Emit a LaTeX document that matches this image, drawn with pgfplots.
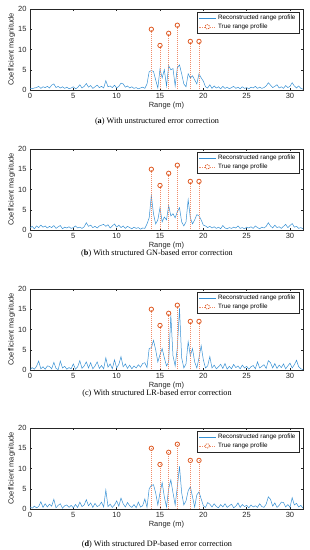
\documentclass[border=0pt]{standalone}
\usepackage{fontspec}
\setmainfont{Liberation Serif}
\newfontfamily\axisfont{Liberation Sans}
\usepackage{pgfplots}
\usepackage{pgfplotstable}
\pgfplotsset{compat=1.18}
\definecolor{mblue}{RGB}{55,145,212}
\definecolor{morange}{RGB}{222,90,35}
\definecolor{mstem}{RGB}{240,140,105}
\definecolor{maxis}{RGB}{38,38,38}

\pgfplotstableread{
x a b c d
0.00 0.4 0.5 0.1 0.5
0.25 0.3 0.9 0.6 0.2
0.50 0.5 0.3 0.2 0.7
0.75 0.6 1.0 0.9 0.3
1.00 0.9 0.6 2.2 0.6
1.25 0.4 1.2 0.3 1.8
1.50 0.8 0.7 0.8 0.4
1.75 0.6 1.0 0.2 1.3
2.00 0.9 0.5 1.0 0.5
2.25 0.5 0.9 0.9 1.2
2.50 1.2 0.6 0.3 0.7
2.75 1.5 1.1 1.9 2.4
3.00 0.6 0.4 0.4 0.3
3.25 0.9 0.8 0.1 0.9
3.50 0.5 1.1 2.2 1.3
3.75 0.8 0.3 0.5 0.2
4.00 0.4 0.7 0.9 0.8
4.25 0.7 0.5 0.2 1.0
4.50 0.3 0.8 0.6 0.4
4.75 0.5 0.4 0.3 0.9
5.00 0.8 0.6 1.5 0.3
5.25 0.3 1.0 0.2 1.1
5.50 0.6 0.5 0.8 0.4
5.75 1.3 0.7 2.3 1.7
6.00 0.5 0.4 0.4 0.6
6.25 0.9 0.8 1.0 1.0
6.50 1.6 1.8 2.0 2.3
6.75 0.7 0.9 0.5 0.8
7.00 1.1 1.2 1.8 1.5
7.25 0.4 0.6 0.3 0.4
7.50 0.8 0.9 1.0 1.4
7.75 1.2 0.5 2.0 0.6
8.00 0.6 1.0 0.4 0.9
8.25 0.9 1.2 1.1 1.7
8.50 0.5 1.4 0.3 0.5
8.75 2.3 0.9 3.0 4.7
9.00 0.8 1.3 0.7 0.6
9.25 1.0 0.5 1.5 1.2
9.50 0.6 1.0 0.3 0.4
9.75 1.2 1.5 2.5 1.0
10.00 0.5 0.7 0.5 2.0
10.25 0.9 1.2 1.4 0.7
10.50 1.7 0.6 3.3 2.7
10.75 1.5 1.0 0.8 1.3
11.00 0.7 0.4 1.5 0.5
11.25 1.0 0.9 0.4 1.6
11.50 0.5 0.6 1.2 0.8
11.75 0.8 0.3 0.3 0.4
12.00 0.4 0.7 1.0 1.1
12.25 0.6 0.4 0.5 0.3
12.50 0.3 0.6 1.3 1.7
12.75 0.5 0.2 0.7 0.5
13.00 0.7 0.5 1.6 0.8
13.25 0.4 0.4 1.8 2.5
13.50 1.5 1.5 0.6 0.4
13.75 4.5 3.0 5.3 5.0
14.00 4.8 8.5 5.5 5.8
14.25 4.6 4.0 7.3 6.0
14.50 2.5 1.5 5.0 4.0
14.75 0.5 2.5 2.0 1.0
15.00 5.2 5.5 3.8 4.0
15.25 3.0 2.0 5.3 6.5
15.50 5.0 3.2 3.0 3.0
15.75 1.0 2.5 1.0 0.5
16.00 6.0 6.0 2.0 5.0
16.25 5.0 3.5 13.5 7.2
16.50 5.3 4.0 3.5 4.0
16.75 1.0 3.0 1.0 1.0
17.00 5.5 4.5 5.5 5.5
17.25 6.2 5.5 15.2 10.5
17.50 4.0 2.0 3.0 4.0
17.75 1.5 1.0 0.5 1.0
18.00 0.8 2.0 1.5 2.0
18.25 4.0 7.5 7.0 4.5
18.50 3.0 3.0 3.5 5.5
18.75 3.5 1.5 5.3 3.0
19.00 2.5 2.5 2.0 0.5
19.25 1.5 3.8 0.5 3.5
19.50 4.0 3.5 3.0 4.2
19.75 3.0 2.5 6.0 2.5
20.00 2.2 1.2 2.5 0.8
20.25 0.8 1.0 0.5 0.4
20.50 0.5 0.6 1.0 1.6
20.75 1.3 0.9 3.3 1.2
21.00 0.4 0.5 0.5 0.5
21.25 1.0 0.8 1.2 1.3
21.50 0.5 0.4 0.3 0.6
21.75 0.8 0.7 0.8 0.3
22.00 0.3 0.3 1.4 1.1
22.25 0.9 1.1 0.4 0.5
22.50 0.4 0.5 1.6 1.3
22.75 0.7 0.3 0.2 0.4
23.00 0.3 0.6 0.9 0.8
23.25 0.6 0.4 0.3 1.2
23.50 0.9 0.7 1.4 0.3
23.75 0.4 0.5 0.6 0.7
24.00 0.7 1.0 1.0 1.5
24.25 0.3 0.4 0.3 0.4
24.50 0.8 0.6 1.2 1.1
24.75 0.4 0.3 0.5 0.6
25.00 0.6 0.7 0.9 0.9
25.25 0.3 0.5 0.2 0.3
25.50 0.7 0.8 0.8 1.0
25.75 0.5 0.4 1.1 0.5
26.00 0.9 1.0 0.3 0.8
26.25 0.4 0.6 2.0 0.4
26.50 0.7 0.3 0.5 1.3
26.75 0.4 0.7 0.9 0.6
27.00 0.6 0.5 1.3 0.4
27.25 1.0 0.9 0.4 1.2
27.50 1.8 1.8 2.3 3.0
27.75 1.2 1.0 1.8 2.4
28.00 0.6 0.5 0.5 0.7
28.25 0.9 1.2 1.6 1.5
28.50 1.3 0.6 0.4 0.4
28.75 0.5 0.8 1.2 0.9
29.00 0.8 0.4 0.6 1.7
29.25 0.4 0.9 1.5 1.6
29.50 1.1 1.4 0.3 0.5
29.75 0.6 0.6 1.0 1.1
30.00 0.9 1.1 1.7 0.4
30.25 1.8 1.6 0.5 2.8
30.50 1.0 0.7 1.3 1.0
30.75 0.5 0.9 2.4 1.4
31.00 1.0 0.4 0.8 0.5
31.25 0.4 0.6 0.3 0.9
31.50 0.2 0.3 0.1 0.2
}\profiles

\pgfplotsset{
  rp/.style={
    scale only axis, width=273pt, height=81pt,
    anchor=south west,
    xmin=0, xmax=31.5, ymin=0, ymax=20,
    xtick={0,5,...,30}, ytick={0,5,...,20},
    tick align=inside, major tick length=2pt,
    axis line style={maxis, line width=0.4pt},
    tick style={maxis, line width=0.4pt},
    ticklabel style={font=\axisfont\fontsize{7.5}{8}\selectfont, text=maxis},
    /pgf/number format/assume math mode=true,
    label style={font=\axisfont\fontsize{7.5}{8}\selectfont, text=maxis},
    xlabel={Range (m)}, ylabel={Coefficient magnitude},
    xlabel style={yshift=3.5pt},
    ylabel style={yshift=-4pt},
    legend style={font=\axisfont\fontsize{6.3}{7}\selectfont,
      at={(rel axis cs:0.985,0.965)}, anchor=north east,
      draw=maxis, line width=0.4pt, inner sep=1.2pt, row sep=-1.5pt},
    legend cell align=left,
  },
  rec/.style={draw=mblue, color=mblue, line width=0.5pt},
  tru/.style={color=mstem, draw=mstem, ycomb, dash pattern=on 1pt off 1pt, dash phase=#1, line width=0.5pt,
    mark=o, mark size=2.2pt, mark options={solid, draw=morange, line width=0.8pt},
    legend image code/.code={
      \draw[draw=mstem, dash pattern=on 1pt off 1pt, dash phase=0.5pt, line width=0.5pt] (0cm,0cm) -- (0.6cm,0cm);
      \draw[draw=morange, line width=0.8pt, fill=white] (0.3cm,0cm) circle (2.2pt);}},
}

\newcommand{\trueprof}[1]{\addplot[tru=#1] coordinates {(14,15) (15,11) (16,14) (17,16) (18.5,12) (19.5,12)};}

\begin{document}
\begin{tikzpicture}
\path[use as bounding box] (0pt,0pt) rectangle (310pt,-550pt);

\begin{axis}[rp, at={(30pt,-90pt)}]
\addplot[rec] table[x=x, y=a] {\profiles};
\trueprof{1pt}
\legend{Reconstructed range profile, True range profile}
\end{axis}
\node[font=\fontsize{8.2}{9}\selectfont] at (157pt,-122pt) {(\textbf{a}) With unstructured error correction};

\begin{axis}[rp, at={(30pt,-230pt)}]
\addplot[rec] table[x=x, y=b] {\profiles};
\trueprof{1pt}
\legend{Reconstructed range profile, True range profile}
\end{axis}
\node[font=\fontsize{8.2}{9}\selectfont] at (157pt,-253.5pt) {(\textbf{b}) With structured GN-based error correction};

\begin{axis}[rp, at={(30pt,-370pt)}]
\addplot[rec] table[x=x, y=c] {\profiles};
\trueprof{1pt}
\legend{Reconstructed range profile, True range profile}
\end{axis}
\node[font=\fontsize{8.2}{9}\selectfont] at (157pt,-393.5pt) {(c) With structured LR-based error correction};

\begin{axis}[rp, at={(30pt,-509pt)}]
\addplot[rec] table[x=x, y=d] {\profiles};
\trueprof{0pt}
\legend{Reconstructed range profile, True range profile}
\end{axis}
\node[font=\fontsize{8.2}{9}\selectfont] at (157pt,-545pt) {(\textbf{d}) With structured DP-based error correction};
\end{tikzpicture}
\end{document}
